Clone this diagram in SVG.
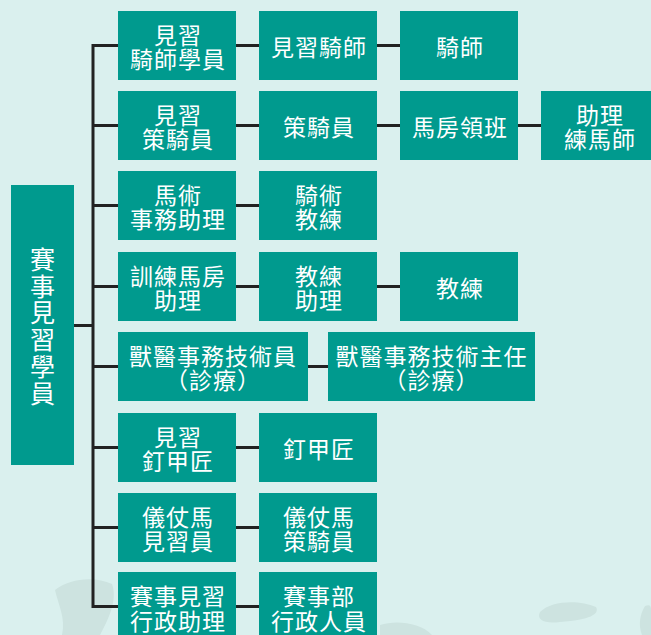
<svg xmlns="http://www.w3.org/2000/svg" width="651" height="635" viewBox="0 0 651 635">
<style>
.bx{fill:#009a8e}
.t{fill:#ffffff;font-family:"Noto Sans CJK TC","Noto Sans CJK SC",sans-serif;font-size:23px;letter-spacing:1px;text-anchor:middle;dominant-baseline:central}
.r{fill:#ffffff;font-family:"Noto Sans CJK TC","Noto Sans CJK SC",sans-serif;font-size:25px;text-anchor:middle;dominant-baseline:central}
.c{fill:none;stroke:#222222;stroke-width:3}
.wm{fill:#cde3e0}
</style>
<rect x="0" y="0" width="651" height="635" fill="#daf0ee"/>
<g id="watermark">
<path class="wm" d="M55 590 C70 578 95 576 112 584 C118 600 108 620 100 635 L62 635 C66 618 58 604 55 590 Z"/>
<path class="wm" d="M540 612 C552 600 580 600 596 607 C600 614 590 620 560 622 C545 624 536 620 540 612 Z"/>
<path class="wm" d="M380 625 C395 620 420 622 432 635 L380 635 Z"/>
<path class="wm" d="M645 606 C650 604 651 606 651 610 L651 635 L642 635 C638 625 640 614 645 606 Z"/>
<path class="wm" d="M150 630 C170 622 200 624 230 632 L230 635 L150 635 Z"/>
</g>
<g id="connectors">
<path class="c" d="M118 45.5 H93 V606.5 H118"/>
<path class="c" d="M93 125.5 H118 M93 205.5 H118 M93 286.5 H118 M93 366.5 H118 M93 447.5 H118 M93 527.5 H118"/>
<path class="c" d="M74 325.5 H93"/>
<path class="c" d="M236 45.5 H259 M236 125.5 H259 M236 205.5 H259 M236 286.5 H259 M308 366.5 H328 M236 447.5 H259 M236 527.5 H259 M236 606.5 H259"/>
<path class="c" d="M377 45.5 H400 M377 125.5 H400 M377 286.5 H400"/>
<path class="c" d="M518 125.5 H541"/>
</g>
<g id="root">
<rect class="bx" x="11" y="185" width="63" height="280"/>
<text class="r" x="42.5" y="258">賽</text>
<text class="r" x="42.5" y="284.7">事</text>
<text class="r" x="42.5" y="311.4">見</text>
<text class="r" x="42.5" y="338.1">習</text>
<text class="r" x="42.5" y="364.8">學</text>
<text class="r" x="42.5" y="391.5">員</text>
</g>
<g id="n1a"><rect class="bx" x="118" y="11" width="118" height="69"/><text class="t" x="178" y="33.5">見習</text><text class="t" x="178" y="57.5">騎師學員</text></g>
<g id="n1b"><rect class="bx" x="259" y="11" width="118" height="69"/><text class="t" x="319" y="45.5">見習騎師</text></g>
<g id="n1c"><rect class="bx" x="400" y="11" width="118" height="69"/><text class="t" x="460" y="45.5">騎師</text></g>
<g id="n2a"><rect class="bx" x="118" y="91" width="118" height="69"/><text class="t" x="178" y="113.5">見習</text><text class="t" x="178" y="137.5">策騎員</text></g>
<g id="n2b"><rect class="bx" x="259" y="91" width="118" height="69"/><text class="t" x="319" y="125.5">策騎員</text></g>
<g id="n2c"><rect class="bx" x="400" y="91" width="118" height="69"/><text class="t" x="460" y="125.5">馬房領班</text></g>
<g id="n2d"><rect class="bx" x="541" y="91" width="118" height="69"/><text class="t" x="600" y="113.5">助理</text><text class="t" x="600" y="137.5">練馬師</text></g>
<g id="n3a"><rect class="bx" x="118" y="171" width="118" height="69"/><text class="t" x="178" y="193.5">馬術</text><text class="t" x="178" y="217.5">事務助理</text></g>
<g id="n3b"><rect class="bx" x="259" y="171" width="118" height="69"/><text class="t" x="319" y="193.5">騎術</text><text class="t" x="319" y="217.5">教練</text></g>
<g id="n4a"><rect class="bx" x="118" y="252" width="118" height="69"/><text class="t" x="178" y="274.5">訓練馬房</text><text class="t" x="178" y="298.5">助理</text></g>
<g id="n4b"><rect class="bx" x="259" y="252" width="118" height="69"/><text class="t" x="319" y="274.5">教練</text><text class="t" x="319" y="298.5">助理</text></g>
<g id="n4c"><rect class="bx" x="400" y="252" width="118" height="69"/><text class="t" x="460" y="286.5">教練</text></g>
<g id="n5a"><rect class="bx" x="118" y="332" width="190" height="69"/><text class="t" x="213" y="354.5">獸醫事務技術員</text><text class="t" x="213" y="378.5">（診療）</text></g>
<g id="n5b"><rect class="bx" x="328" y="332" width="207" height="69"/><text class="t" x="431.5" y="354.5">獸醫事務技術主任</text><text class="t" x="431.5" y="378.5">（診療）</text></g>
<g id="n6a"><rect class="bx" x="118" y="413" width="118" height="69"/><text class="t" x="178" y="435.5">見習</text><text class="t" x="178" y="459.5">釘甲匠</text></g>
<g id="n6b"><rect class="bx" x="259" y="413" width="118" height="69"/><text class="t" x="319" y="447.5">釘甲匠</text></g>
<g id="n7a"><rect class="bx" x="118" y="493" width="118" height="69"/><text class="t" x="178" y="515.5">儀仗馬</text><text class="t" x="178" y="539.5">見習員</text></g>
<g id="n7b"><rect class="bx" x="259" y="493" width="118" height="69"/><text class="t" x="319" y="515.5">儀仗馬</text><text class="t" x="319" y="539.5">策騎員</text></g>
<g id="n8a"><rect class="bx" x="118" y="572" width="118" height="69"/><text class="t" x="178" y="594.5">賽事見習</text><text class="t" x="178" y="619.5">行政助理</text></g>
<g id="n8b"><rect class="bx" x="259" y="572" width="118" height="69"/><text class="t" x="319" y="594.5">賽事部</text><text class="t" x="319" y="619.5">行政人員</text></g>
</svg>
